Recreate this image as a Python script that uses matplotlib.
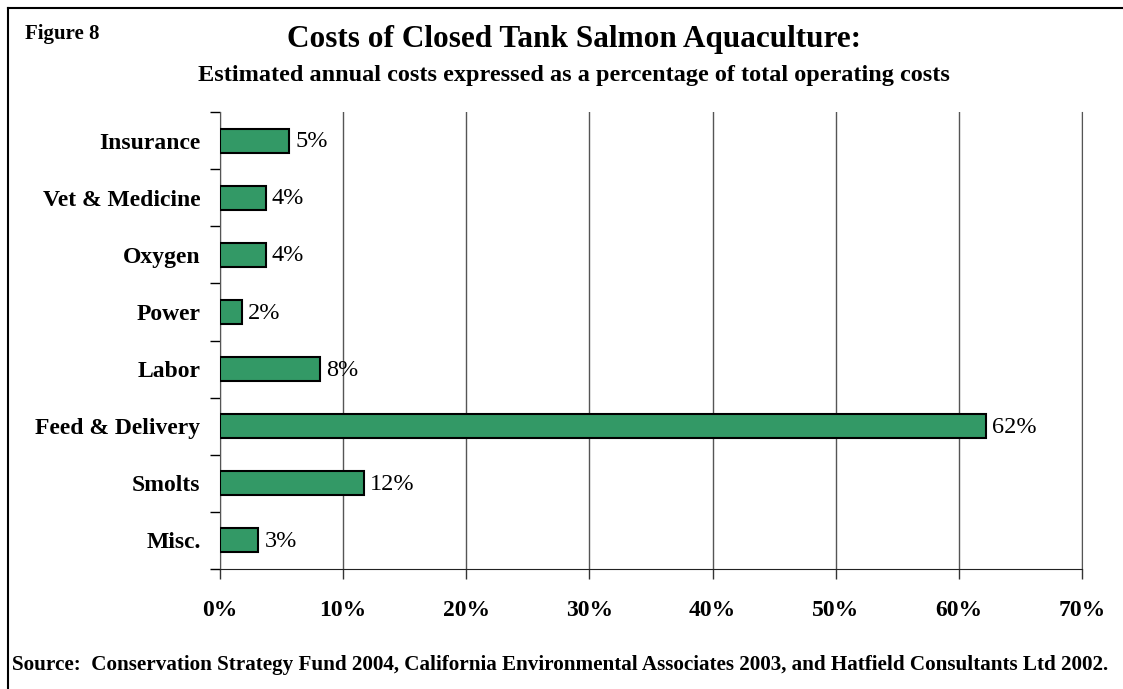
import numpy as np
import matplotlib.pyplot as plt
from matplotlib.lines import Line2D

plt.rcParams['font.family'] = ['Liberation Serif', 'DejaVu Serif']

categories = ['Insurance', 'Vet & Medicine', 'Oxygen', 'Power', 'Labor',
              'Feed & Delivery', 'Smolts', 'Misc.']
values = [5.6, 3.7, 3.7, 1.8, 8.1, 62.2, 11.7, 3.1]
labels = ['5%', '4%', '4%', '2%', '8%', '62%', '12%', '3%']
xticks = [0, 10, 20, 30, 40, 50, 60, 70]

W, H = 1123, 689
fig = plt.figure(figsize=(W / 100, H / 100), dpi=100)
ax = fig.add_axes([220 / W, 1 - 569 / H, (1082 - 220) / W, (569 - 112) / H])

y = np.arange(len(categories))
ax.barh(y, values, height=0.42, color='#339966', edgecolor='black', linewidth=1.5, zorder=3)
for yi, v, lab in zip(y, values, labels):
    ax.text(v + 0.5, yi + 0.02, lab, va='center', ha='left', fontsize=17.5)

ax.set_ylim(len(categories) - 0.5, -0.5)
ax.set_xlim(0, 70)
ax.set_xticks(xticks)
ax.set_xticklabels([f'{t}%' for t in xticks], fontsize=17, fontweight='bold')
ax.set_yticks(y)
ax.set_yticklabels(categories, fontsize=17, fontweight='bold')
ax.set_yticks(np.arange(len(categories) + 1) - 0.5, minor=True)
ax.tick_params(axis='y', which='major', length=0, pad=14)
ax.tick_params(axis='y', which='minor', length=7, width=1, color='black', direction='out')
ax.tick_params(axis='x', length=7, width=1, color='#333333', pad=15)
ax.grid(axis='x', color='#555555', linewidth=1, zorder=0)
ax.spines['top'].set_visible(False)
ax.spines['right'].set_color('#555555')
ax.spines['left'].set_color('#555555')
ax.spines['bottom'].set_color('#222222')

fig.text(25 / W, 1 - 34 / H, 'Figure 8', fontsize=15, fontweight='bold', va='center')
fig.text(574 / W, 1 - 39 / H, 'Costs of Closed Tank Salmon Aquaculture:', fontsize=22.5,
         fontweight='bold', ha='center', va='center')
fig.text(574 / W, 1 - 76 / H,
         'Estimated annual costs expressed as a percentage of total operating costs',
         fontsize=17.5, fontweight='bold', ha='center', va='center')
fig.text(12 / W, 1 - 665 / H,
         'Source:  Conservation Strategy Fund 2004, California Environmental Associates 2003, '
         'and Hatfield Consultants Ltd 2002.',
         fontsize=15.2, fontweight='bold', ha='left', va='center')

# frame (right and bottom edges are cut off in the original)
fig.add_artist(Line2D([8 / W, 1], [1 - 8 / H, 1 - 8 / H], color='black', linewidth=1.5))
fig.add_artist(Line2D([8 / W, 8 / W], [0, 1 - 8 / H], color='black', linewidth=1.5))

fig.savefig('out.png', dpi=100)
